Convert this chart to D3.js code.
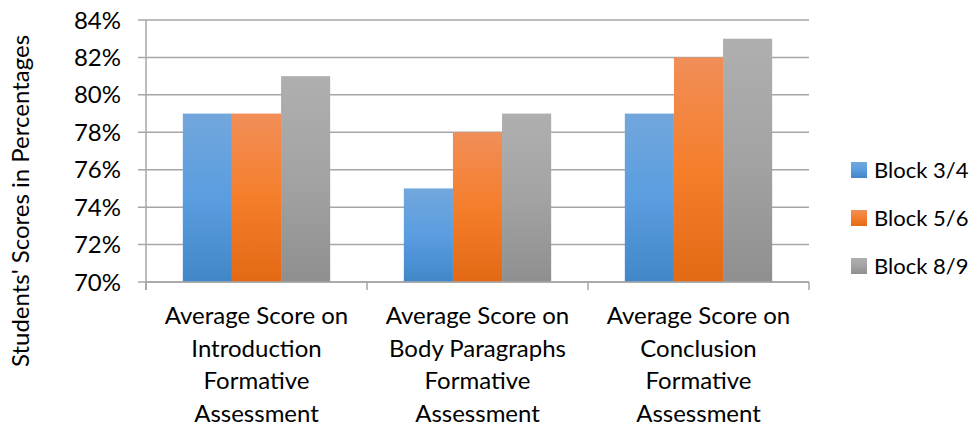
<!DOCTYPE html>
<html>
<head>
<meta charset="utf-8">
<script src="https://cdn.jsdelivr.net/npm/d3@7"></script>
<style>
  body { margin: 0; background: #fff; }
  text { font-family: Lato, "Open Sans", sans-serif; fill: #000; }
</style>
</head>
<body>
<div id="chart"></div>
<script>
const categories = [
  ["Average Score on", "Introduction", "Formative", "Assessment"],
  ["Average Score on", "Body Paragraphs", "Formative", "Assessment"],
  ["Average Score on", "Conclusion", "Formative", "Assessment"]
];
const seriesNames = ["Block 3/4", "Block 5/6", "Block 8/9"];
const block34Vals = [79, 75, 79];
const block56Vals = [79, 78, 82];
const block89Vals = [81, 79, 83];
const yTicks = [70, 72, 74, 76, 78, 80, 82, 84];

const seriesValues = [block34Vals, block56Vals, block89Vals];
const gradients = [
  ["#72a7dc", "#5a9de0", "#4187c8"],
  ["#f18e58", "#f57e2b", "#e36914"],
  ["#afafaf", "#a3a3a3", "#8f8f8f"]
];

let W = 975, H = 427;
let margin = { left: 146, right: 166, top: 20, bottom: 145 };

let svg = d3.select("#chart").append("svg")
  .attr("width", W)
  .attr("height", H);

let defs = svg.append("defs");
gradients.forEach((g, i) => {
  let lg = defs.append("linearGradient")
    .attr("id", "grad" + i)
    .attr("x1", 0).attr("y1", 0).attr("x2", 0).attr("y2", 1);
  lg.append("stop").attr("offset", "0%").attr("stop-color", g[0]);
  lg.append("stop").attr("offset", "50%").attr("stop-color", g[1]);
  lg.append("stop").attr("offset", "100%").attr("stop-color", g[2]);
});

let x0 = d3.scaleBand()
  .domain(d3.range(categories.length))
  .range([margin.left, W - margin.right])
  .paddingInner(1.5 / 4.5)
  .paddingOuter(0.75 / 4.5);

let x1 = d3.scaleBand()
  .domain(d3.range(seriesNames.length))
  .range([0, x0.bandwidth()]);

let y = d3.scaleLinear()
  .domain([70, 84])
  .range([282, margin.top]);

// gridlines
svg.append("g")
  .selectAll("line")
  .data(yTicks)
  .enter()
  .append("line")
  .attr("x1", margin.left - 8)
  .attr("x2", W - margin.right)
  .attr("y1", d => y(d))
  .attr("y2", d => y(d))
  .attr("stroke", "#a6a6a6")
  .attr("stroke-width", 1.5);

// y axis line
svg.append("line")
  .attr("x1", margin.left).attr("x2", margin.left)
  .attr("y1", y(84)).attr("y2", y(70) + 8)
  .attr("stroke", "#a6a6a6").attr("stroke-width", 1.5);

// y tick labels
svg.append("g")
  .selectAll("text")
  .data(yTicks)
  .enter()
  .append("text")
  .attr("x", 121)
  .attr("y", d => y(d))
  .attr("dy", "0.36em")
  .attr("text-anchor", "end")
  .attr("font-size", "24px")
  .text(d => d + "%");

// bars
let groups = svg.append("g")
  .selectAll("g")
  .data(categories.map((c, i) => i))
  .enter()
  .append("g")
  .attr("transform", i => "translate(" + x0(i) + ",0)");

groups.selectAll("rect")
  .data(i => seriesValues.map((s, j) => ({ s: j, v: s[i] })))
  .enter()
  .append("rect")
  .attr("x", d => x1(d.s))
  .attr("width", x1.bandwidth())
  .attr("y", d => y(d.v))
  .attr("height", d => y(70) - y(d.v))
  .attr("fill", d => "url(#grad" + d.s + ")");

// x axis line and ticks
let step = x0.step();
svg.append("line")
  .attr("x1", margin.left).attr("x2", W - margin.right)
  .attr("y1", y(70)).attr("y2", y(70))
  .attr("stroke", "#a6a6a6").attr("stroke-width", 1.5);
svg.append("g")
  .selectAll("line")
  .data(d3.range(categories.length + 1))
  .enter()
  .append("line")
  .attr("x1", i => margin.left + i * step)
  .attr("x2", i => margin.left + i * step)
  .attr("y1", y(70))
  .attr("y2", y(70) + 8)
  .attr("stroke", "#a6a6a6").attr("stroke-width", 1.5);

// x labels
let xl = svg.append("g")
  .selectAll("text")
  .data(categories)
  .enter()
  .append("text")
  .attr("text-anchor", "middle")
  .attr("font-size", "24px")
  .attr("transform", (d, i) => "translate(" + (x0(i) + x0.bandwidth() / 2) + ",0)");
xl.selectAll("tspan")
  .data(d => d)
  .enter()
  .append("tspan")
  .attr("x", 0)
  .attr("y", (d, k) => 324 + k * 32.7)
  .text(d => d);

// y axis title
svg.append("text")
  .attr("transform", "translate(29,201) rotate(-90)")
  .attr("text-anchor", "middle")
  .attr("font-size", "24px")
  .text("Students' Scores in Percentages");

// legend
let legend = svg.append("g")
  .selectAll("g")
  .data(seriesNames)
  .enter()
  .append("g")
  .attr("transform", (d, i) => "translate(851," + (170 + i * 48) + ")");
legend.append("rect")
  .attr("x", 0).attr("y", -8)
  .attr("width", 16).attr("height", 16)
  .attr("fill", (d, i) => "url(#grad" + i + ")");
legend.append("text")
  .attr("x", 23)
  .attr("y", 0)
  .attr("dy", "0.36em")
  .attr("font-size", "22px")
  .text(d => d);
</script>
</body>
</html>
